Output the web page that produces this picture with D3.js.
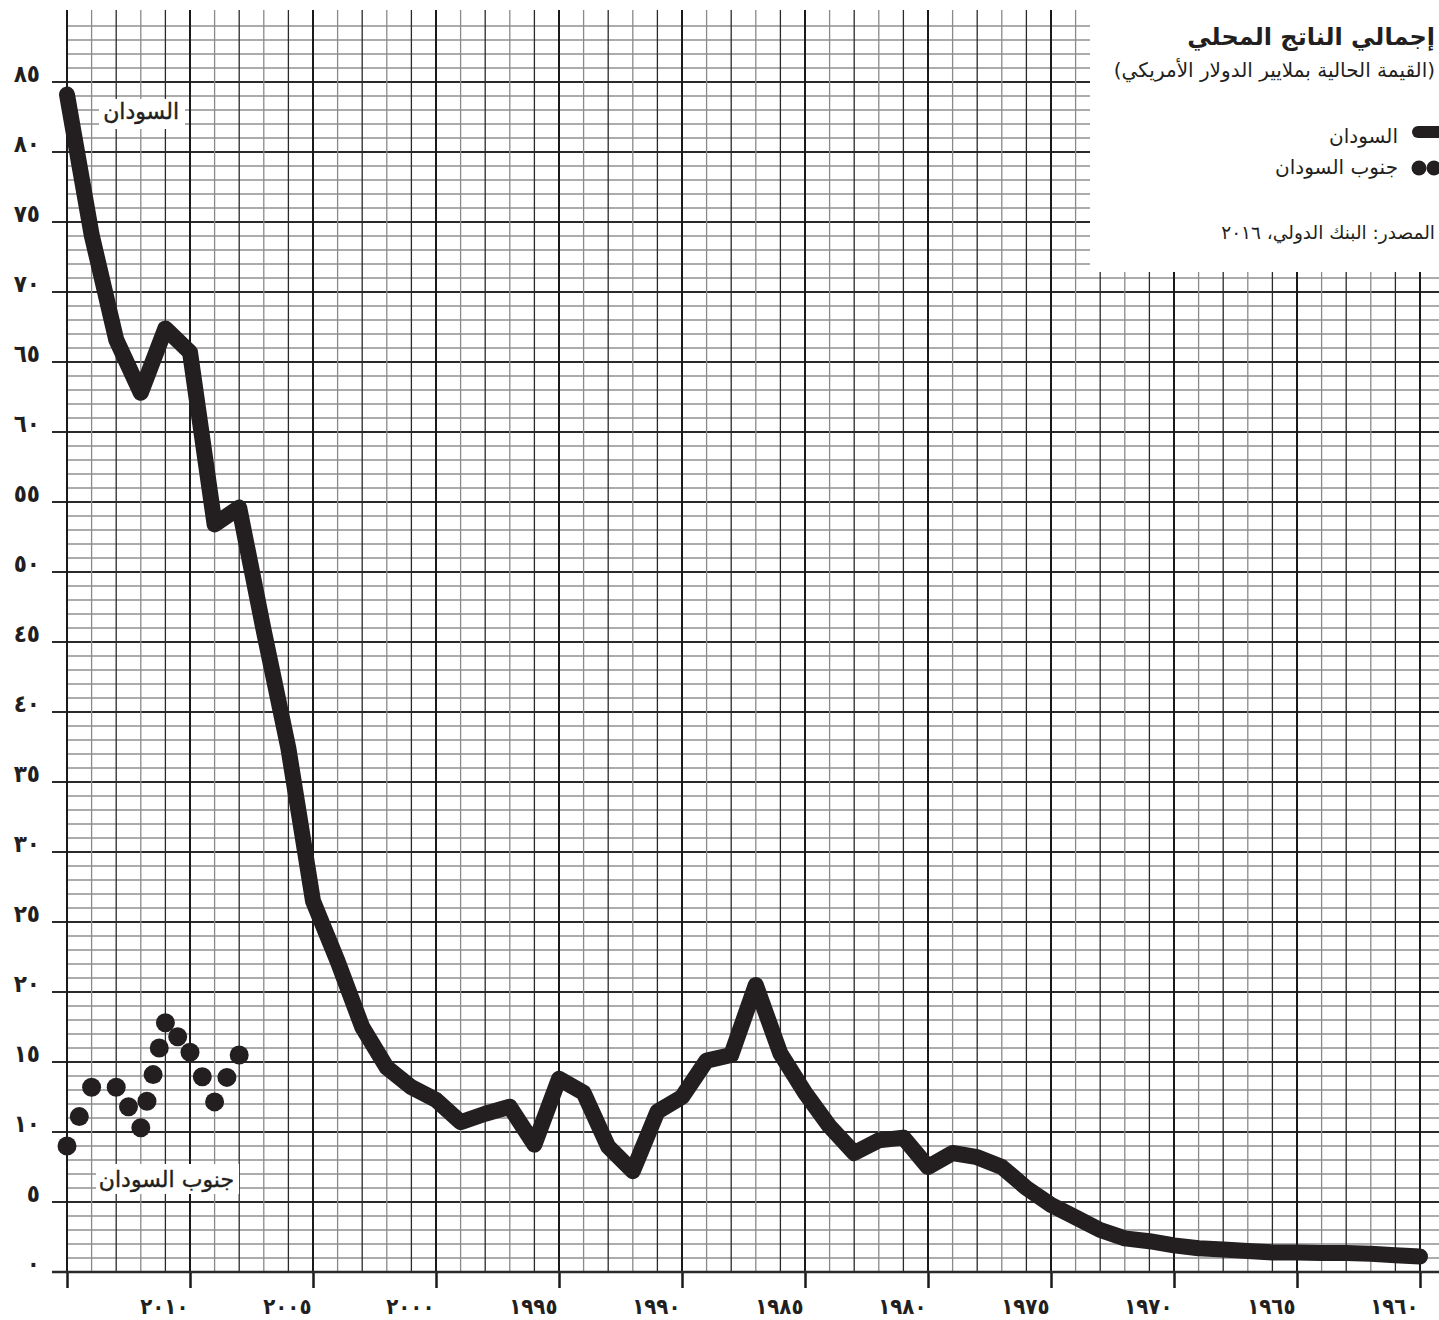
<!DOCTYPE html>
<html>
<head>
<meta charset="utf-8">
<script src="https://cdn.jsdelivr.net/npm/d3@7"></script>
<style>
  body { margin: 0; background: #fff; }
  svg { display: block; }
</style>
</head>
<body>
<div id="chart"></div>
<script>
// Sudan GDP, current US$ billions
const sudanYears = [1960, 1961, 1962, 1963, 1964, 1965, 1966, 1967, 1968, 1969,
  1970, 1971, 1972, 1973, 1974, 1975, 1976, 1977, 1978, 1979,
  1980, 1981, 1982, 1983, 1984, 1985, 1986, 1987, 1988, 1989,
  1990, 1991, 1992, 1993, 1994, 1995, 1996, 1997, 1998, 1999,
  2000, 2001, 2002, 2003, 2004, 2005, 2006, 2007, 2008, 2009,
  2010, 2011, 2012, 2013, 2014, 2015]
const sudanGdp = [1.1, 1.2, 1.3, 1.35, 1.35, 1.4, 1.4, 1.5, 1.6, 1.7,
  1.9, 2.2, 2.4, 3.0, 3.9, 4.8, 6.0, 7.5, 8.2, 8.5,
  7.5, 9.6, 9.4, 8.5, 10.4, 12.8, 15.6, 20.5, 15.5, 15.1,
  12.5, 11.45, 7.2, 8.95, 12.8, 13.8, 9.1, 11.8, 11.3, 10.7,
  12.3, 13.2, 14.6, 17.5, 22.2, 26.5, 37.4, 45.8, 54.6, 53.4,
  65.7, 67.4, 62.8, 66.6, 74.1, 84.1]

// South Sudan, plotted as dots at fractional years
const southYears = [2015, 2014.5, 2014, 2013, 2012.5, 2012, 2011.75, 2011.5, 2011.25,
  2011, 2010.5, 2010, 2009.5, 2009, 2008.5, 2008]
const southGdp = [9.0, 11.1, 13.2, 13.2, 11.8, 10.3, 12.2, 14.1, 16.0,
  17.8, 16.8, 15.7, 13.95, 12.15, 13.9, 15.5]

const xTicks = [2010, 2005, 2000, 1995, 1990, 1985, 1980, 1975, 1970, 1965, 1960]
const xTickLabels = ['٢٠١٠', '٢٠٠٥', '٢٠٠٠', '١٩٩٥', '١٩٩٠', '١٩٨٥', '١٩٨٠', '١٩٧٥', '١٩٧٠', '١٩٦٥', '١٩٦٠']
const yTicks = [0, 5, 10, 15, 20, 25, 30, 35, 40, 45, 50, 55, 60, 65, 70, 75, 80, 85]
const yTickLabels = ['٠', '٥', '١٠', '١٥', '٢٠', '٢٥', '٣٠', '٣٥', '٤٠', '٤٥', '٥٠', '٥٥', '٦٠', '٦٥', '٧٠', '٧٥', '٨٠', '٨٥']

const W = 1439, H = 1320
const ink = '#231f20'
const font = "'DejaVu Sans', sans-serif"
const tickFont = "'DejaVu Sans Condensed', 'DejaVu Sans', sans-serif"

const svg = d3.select('#chart').append('svg')
  .attr('width', W).attr('height', H)
  .attr('viewBox', '0 0 ' + W + ' ' + H)
  .style('font-family', font)

const x = d3.scaleLinear().domain([2015, 1960]).range([67, 1420])
const y = d3.scaleLinear().domain([0, 85]).range([1272, 82])

// graph paper grid
const grid = svg.append('g')
const hVals = d3.range(1, 90)
grid.selectAll('line.h').data(hVals).enter().append('line')
  .attr('x1', d => d % 5 == 0 ? 52 : x(2015))
  .attr('x2', W)
  .attr('y1', d => y(d)).attr('y2', d => y(d))
  .attr('stroke', d => d % 5 == 0 ? '#2a2a2a' : '#919191')
  .attr('stroke-width', d => d % 5 == 0 ? 2 : 1.4)

const vVals = d3.range(1959, 2016)
grid.selectAll('line.v').data(vVals).enter().append('line')
  .attr('x1', d => x(d)).attr('x2', d => x(d))
  .attr('y1', 10).attr('y2', y(0))
  .attr('stroke', d => {
    const off = (2015 - d) % 5
    if (off == 0) return '#1a1a1a'
    return off % 2 == 1 ? '#8a8a8a' : '#2a2a2a'
  })
  .attr('stroke-width', d => (2015 - d) % 5 == 0 ? 2 : 1.3)

// white box behind the title / legend
svg.append('rect')
  .attr('x', 1090).attr('y', 0)
  .attr('width', W - 1090).attr('height', 272)
  .attr('fill', '#fff')

// x axis
const xAxis = svg.append('g')
  .attr('transform', 'translate(0,' + y(0) + ')')
  .call(d3.axisBottom(x).tickValues(xTicks.concat([2015]))
    .tickSize(16)
    .tickFormat(d => d == 2015 ? '' : xTickLabels[xTicks.indexOf(d)]))
xAxis.select('.domain').remove()
xAxis.append('line')
  .attr('x1', 52).attr('x2', W)
  .attr('stroke', '#2a2a2a').attr('stroke-width', 2.5)
xAxis.selectAll('.tick line').attr('stroke', '#1a1a1a').attr('stroke-width', 2.5)
xAxis.selectAll('.tick text')
  .attr('y', 42).attr('dy', 0).attr('x', -2)
  .attr('text-anchor', 'end')
  .attr('fill', ink)
  .attr('font-family', tickFont)
  .attr('font-size', 22)
  .attr('font-weight', 'bold')

// y axis labels
const yAxis = svg.append('g')
  .call(d3.axisLeft(y).tickValues(yTicks).tickSize(0)
    .tickFormat(d => yTickLabels[yTicks.indexOf(d)]))
yAxis.select('.domain').remove()
yAxis.selectAll('.tick text')
  .attr('x', 40).attr('dy', -1)
  .attr('text-anchor', 'end')
  .attr('fill', ink)
  .attr('font-family', tickFont)
  .attr('font-size', 24)
  .attr('font-weight', 'bold')

// Sudan line
const line = d3.line()
  .x((d, i) => x(sudanYears[i]))
  .y(d => y(d))
svg.append('path')
  .datum(sudanGdp)
  .attr('d', line)
  .attr('fill', 'none')
  .attr('stroke', ink)
  .attr('stroke-width', 16)
  .attr('stroke-linejoin', 'round')
  .attr('stroke-linecap', 'round')

// South Sudan dots
svg.selectAll('circle.ss').data(southGdp).enter().append('circle')
  .attr('class', 'ss')
  .attr('cx', (d, i) => x(southYears[i]))
  .attr('cy', d => y(d))
  .attr('r', 9.5)
  .attr('fill', ink)

// in-chart labels with white backing
function tag(txt, xr, yb, bx, by, bw, bh) {
  svg.append('rect').attr('x', bx).attr('y', by).attr('width', bw).attr('height', bh).attr('fill', '#fff')
  svg.append('text').text(txt)
    .attr('x', xr).attr('y', yb)
    .attr('direction', 'rtl').attr('text-anchor', 'start')
    .attr('font-size', 22)
    .attr('fill', ink)
    .attr('stroke', ink).attr('stroke-width', 0.4)
}
tag('السودان', 179, 119, 99, 99, 86, 30)
tag('جنوب السودان', 234, 1187, 96, 1164, 143, 30)

// title + legend
const head = svg.append('g').attr('fill', ink)
head.append('text').text('إجمالي الناتج المحلي')
  .attr('x', 1435).attr('y', 45)
  .attr('direction', 'rtl').attr('text-anchor', 'start')
  .attr('font-size', 24).attr('font-weight', 'bold')
head.append('text').text('(القيمة الحالية بملايير الدولار الأمريكي)')
  .attr('x', 1435).attr('y', 77)
  .attr('direction', 'rtl').attr('text-anchor', 'start')
  .attr('font-size', 20)

head.append('rect')
  .attr('x', 1412).attr('y', 126).attr('width', 40).attr('height', 12).attr('rx', 6)
head.append('text').text('السودان')
  .attr('x', 1398).attr('y', 143)
  .attr('direction', 'rtl').attr('text-anchor', 'start')
  .attr('font-size', 20)

head.append('circle').attr('cx', 1419).attr('cy', 168).attr('r', 7.5)
head.append('circle').attr('cx', 1434).attr('cy', 168).attr('r', 7.5)
head.append('text').text('جنوب السودان')
  .attr('x', 1398).attr('y', 174)
  .attr('direction', 'rtl').attr('text-anchor', 'start')
  .attr('font-size', 20)

head.append('text').text('المصدر: البنك الدولي، ٢٠١٦')
  .attr('x', 1435).attr('y', 239)
  .attr('direction', 'rtl').attr('text-anchor', 'start')
  .attr('font-size', 18.5)
</script>
</body>
</html>
